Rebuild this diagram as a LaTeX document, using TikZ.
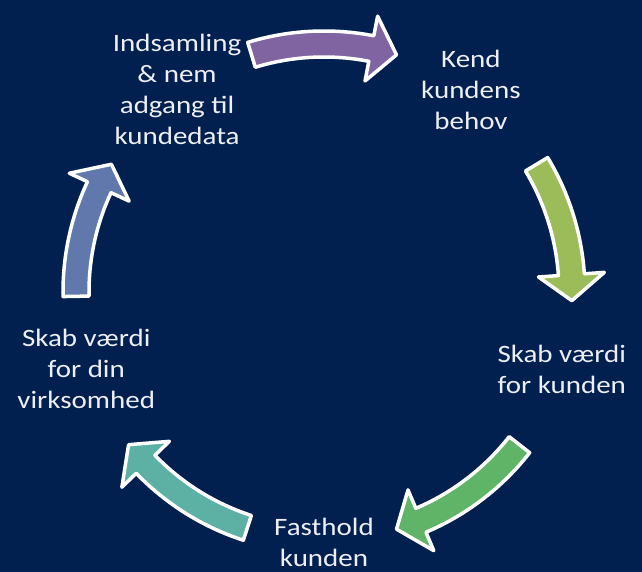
\documentclass[tikz,border=0pt]{standalone}
\usepackage{fontspec}
\setmainfont{Carlito}[FakeStretch=1.16]

\definecolor{navy}{RGB}{1,32,80}
\definecolor{txtgray}{RGB}{236,239,244}
\definecolor{purplearr}{RGB}{128,99,161}
\definecolor{limearr}{RGB}{156,187,89}
\definecolor{greenarr}{RGB}{95,180,104}
\definecolor{tealarr}{RGB}{92,176,164}
\definecolor{bluearr}{RGB}{96,120,172}

\begin{document}
\begin{tikzpicture}[x=1pt, y=1pt,
  steptext/.style={text=txtgray, align=center, font=\fontsize{25}{31}\selectfont},
  cyclearrow/.style={draw=white, line width=3.5pt, line join=round}]

  \newcommand\R{248};   %% middle of the shaft
  \newcommand\Ro{261};  %% outer edge of the shaft
  \newcommand\Ri{235};  %% inner edge of the shaft
  \newcommand\Rho{281}; %% outer barb
  \newcommand\Rhi{215}; %% inner barb

  \newcommand\cycarrow[3]{%
    \pgfmathsetmacro\hb{#2+6}
    \draw[cyclearrow, fill=#3] (#1:\Ro) arc[start angle=#1, end angle=\hb, radius=\Ro]
      -- (\hb:\Rho) -- (#2:\R) -- (\hb:\Rhi) -- (\hb:\Ri)
      arc[start angle=\hb, end angle=#1, radius=\Ri] -- cycle;}

  \fill[navy] (-324, -280) rectangle (318, 292);
  \useasboundingbox (-324, -280) rectangle (318, 292);

  \node[steptext] (indsamling) at (126:250) {Indsamling\\\& nem\\adgang til\\kundedata};
  \node[steptext] (kend) at (54:250) {Kend\\kundens\\behov};
  \node[steptext] (kundevaerdi) at (-18:250) {Skab værdi\\for kunden};
  \node[steptext] (fasthold) at (-90:250) {Fasthold\\kunden};
  \node[steptext] (dinvaerdi) at (198:250) {Skab værdi\\for din\\virksomhed};

  \cycarrow{107}{73}{purplearr}   %% indsamling -> kend
  \cycarrow{31}{-2}{limearr}      %% kend -> kundevaerdi
  \cycarrow{-38}{-73}{greenarr}   %% kundevaerdi -> fasthold
  \cycarrow{-108}{-142}{tealarr}  %% fasthold -> dinvaerdi
  \cycarrow{181}{149}{bluearr}    %% dinvaerdi -> indsamling
\end{tikzpicture}
\end{document}
